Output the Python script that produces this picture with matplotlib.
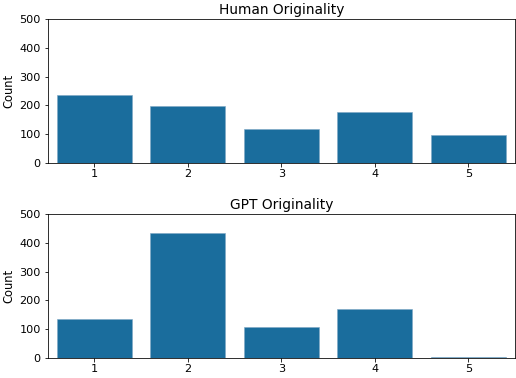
import matplotlib
matplotlib.use("Agg")
import matplotlib.pyplot as plt

ratings = [1, 2, 3, 4, 5]
human_counts = [237, 199, 119, 176, 96]
gpt_counts = [136, 434, 105, 168, 2]

bar_color = "#1a6d9d"

plt.rcParams["font.size"] = 11.5
plt.rcParams["xtick.labelsize"] = 11.3
plt.rcParams["ytick.labelsize"] = 11.3
plt.rcParams["xtick.major.pad"] = 3.0

fig, (ax1, ax2) = plt.subplots(2, 1, figsize=(516 / 72, 378 / 72), dpi=72)

for ax, counts, title in [(ax1, human_counts, "Human Originality"),
                          (ax2, gpt_counts, "GPT Originality")]:
    ax.bar(range(len(ratings)), counts, width=0.8, color=bar_color,
           edgecolor="#7fa9c6", linewidth=0.6)
    ax.set_xticks(range(len(ratings)))
    ax.set_xticklabels([str(r) for r in ratings])
    ax.set_xlim(-0.5, len(ratings) - 0.5)
    ax.set_ylim(0, 500)
    ax.set_ylabel("Count")
    ax.set_title(title, fontsize=13.8, pad=5)

fig.subplots_adjust(left=0.0924, right=0.998, top=0.949, bottom=0.054, hspace=0.36)
plt.savefig("out.png", dpi=72)
